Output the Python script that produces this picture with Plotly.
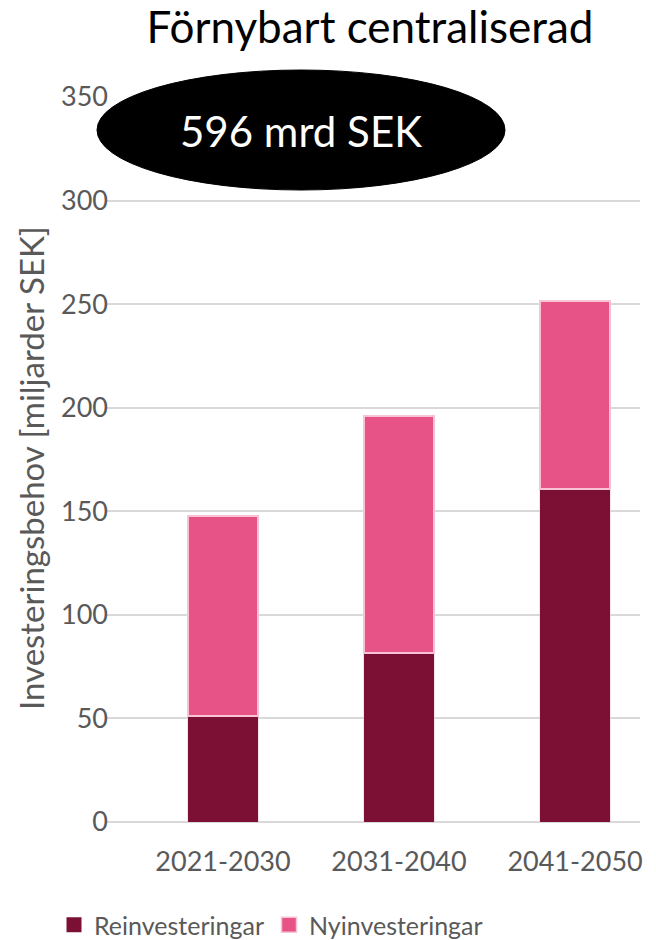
import plotly.graph_objects as go

categories = ["2021-2030", "2031-2040", "2041-2050"]
reinvest = [51.3, 81.5, 161.0]
nyinvest = [96.3, 114.5, 90.7]
y_ticks = [0, 50, 100, 150, 200, 250, 300, 350]
title = "Förnybart centraliserad"
y_title = "Investeringsbehov [miljarder SEK]"
total_label = "596 mrd SEK"
series_names = ["Reinvesteringar", "Nyinvesteringar"]

FONT = "Lato"
GREY = "#595959"
COLORS = ["#7B1034", "#E75387"]
EDGES = ["#F4C6D6", "#F8C3D5"]

fig = go.Figure()
for name, vals, col, edge, lw in zip(series_names, [reinvest, nyinvest], COLORS, EDGES, [0.5, 2]):
    fig.add_trace(go.Bar(
        x=categories, y=vals, name=name, legendgroup=name, showlegend=False,
        marker=dict(color=col, line=dict(color=edge, width=lw)),
    ))
for name, col, edge, lw in zip(series_names, COLORS, EDGES, [0, 1.5]):
    fig.add_trace(go.Scatter(
        x=[None], y=[None], mode="markers", name=name, legendgroup=name,
        marker=dict(symbol="square", size=15, color=col, line=dict(color=edge, width=lw)),
    ))

W, H = 656, 940
L, R, T, B = 107, 16, 97, 118
pw, ph = W - L - R, H - T - B

def px_x(px):
    return (px - L) / pw

def px_y(py):
    return (H - B - py) / ph

fig.add_shape(
    type="circle", xref="paper", yref="paper",
    x0=px_x(97), x1=px_x(505), y0=px_y(190), y1=px_y(70),
    fillcolor="black", line=dict(color="black", width=1), layer="above",
)
fig.add_annotation(
    x=px_x(301), y=px_y(131), xref="paper", yref="paper",
    xanchor="center", yanchor="middle",
    text=total_label, showarrow=False,
    font=dict(family=FONT, size=42, color="white"),
)
fig.add_annotation(
    x=px_x(31), y=px_y(468), xref="paper", yref="paper",
    xanchor="center", yanchor="middle", textangle=-90,
    text=y_title, showarrow=False,
    font=dict(family=FONT, size=33, color=GREY),
)

fig.update_layout(
    width=W, height=H,
    margin=dict(l=L, r=R, t=T, b=B, autoexpand=False),
    barmode="stack", bargap=0.6,
    plot_bgcolor="white", paper_bgcolor="white",
    title=dict(text=title, xref="container", yref="container",
               x=370 / W, xanchor="center", y=1 - 28 / H, yanchor="middle",
               font=dict(family=FONT, size=44, color="black")),
    font=dict(family=FONT, color=GREY),
    showlegend=True,
    legend=dict(orientation="h", xref="container", yref="container",
                x=54 / W, xanchor="left", y=1 - 925 / H, yanchor="middle",
                entrywidth=170, entrywidthmode="pixels",
                font=dict(family=FONT, size=25, color=GREY), traceorder="normal"),
    xaxis=dict(type="category", range=[-0.659, 2.369],
               showgrid=False, showline=False, ticks="outside", ticklen=16,
               tickcolor="rgba(0,0,0,0)",
               tickfont=dict(family=FONT, size=27, color=GREY)),
    yaxis=dict(range=[0, 350], tickvals=y_ticks, showgrid=True, gridcolor="#D9D9D9",
               gridwidth=1.5, zeroline=True, zerolinecolor="#D9D9D9", zerolinewidth=1.5,
               showline=False, ticks="", ticklabelstandoff=-2,
               tickfont=dict(family=FONT, size=27, color=GREY)),
)

fig.write_html("out.html")
